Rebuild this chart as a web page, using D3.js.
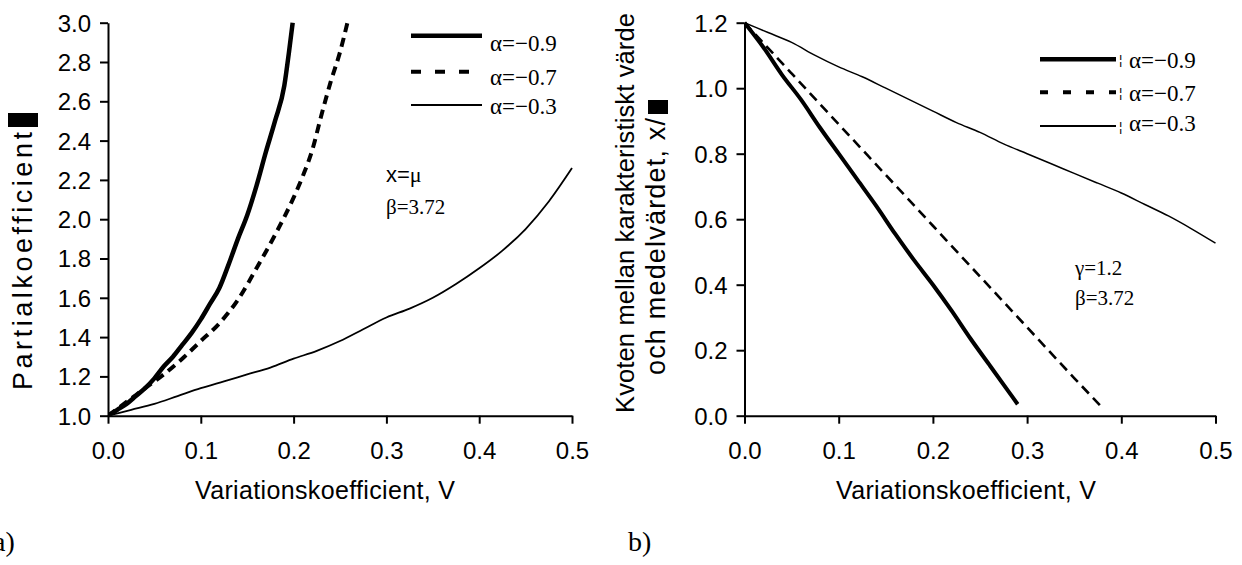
<!DOCTYPE html>
<html>
<head>
<meta charset="utf-8">
<script src="https://cdn.jsdelivr.net/npm/d3@7"></script>
<style>
  html, body { margin: 0; padding: 0; background: #fff; }
  svg { display: block; }
  .tick text { font-family: "Liberation Sans", Arial, sans-serif; font-size: 24px; fill: #000; }
  .axis path, .axis line { stroke: #000; stroke-width: 2; }
  .sans { font-family: "Liberation Sans", Arial, sans-serif; fill: #000; }
  .serif { font-family: "Liberation Serif", "Times New Roman", serif; fill: #000; }
</style>
</head>
<body>
<svg id="chart" width="1242" height="565"></svg>
<script>
// ---------- data ----------
// Panel a) Partialkoefficient vs Variationskoefficient V
const aThickV = [0, 0.01, 0.02, 0.03, 0.04, 0.05, 0.06, 0.07, 0.08, 0.09, 0.10, 0.11, 0.12, 0.13, 0.14, 0.15, 0.16, 0.17, 0.18, 0.19, 0.195, 0.199];
const aThickY = [1.0, 1.03, 1.06, 1.10, 1.14, 1.19, 1.25, 1.30, 1.36, 1.42, 1.49, 1.57, 1.65, 1.77, 1.90, 2.02, 2.17, 2.34, 2.50, 2.68, 2.85, 3.0];
const aDashV = [0, 0.02, 0.04, 0.06, 0.08, 0.10, 0.12, 0.14, 0.16, 0.18, 0.20, 0.21, 0.22, 0.23, 0.24, 0.25, 0.258];
const aDashY = [1.0, 1.07, 1.14, 1.21, 1.29, 1.38, 1.47, 1.59, 1.75, 1.92, 2.11, 2.22, 2.35, 2.53, 2.70, 2.85, 3.0];
const aThinV = [0, 0.025, 0.05, 0.075, 0.10, 0.125, 0.15, 0.175, 0.20, 0.225, 0.25, 0.275, 0.30, 0.325, 0.35, 0.375, 0.40, 0.425, 0.45, 0.475, 0.50];
const aThinY = [1.0, 1.03, 1.06, 1.10, 1.14, 1.175, 1.21, 1.245, 1.29, 1.33, 1.38, 1.44, 1.50, 1.545, 1.60, 1.67, 1.75, 1.84, 1.95, 2.09, 2.26];

// Panel b) Kvoten x_k / medelvärdet vs V
const bThickV = [0, 0.02, 0.04, 0.06, 0.08, 0.10, 0.12, 0.14, 0.16, 0.18, 0.20, 0.22, 0.24, 0.26, 0.28, 0.29];
const bThickY = [1.2, 1.125, 1.04, 0.965, 0.88, 0.80, 0.72, 0.64, 0.555, 0.475, 0.40, 0.32, 0.235, 0.155, 0.075, 0.035];
const bDashV = [0, 0.05, 0.10, 0.15, 0.20, 0.25, 0.30, 0.35, 0.378];
const bDashY = [1.2, 1.045, 0.89, 0.735, 0.58, 0.425, 0.27, 0.115, 0.03];
const bThinV = [0, 0.025, 0.05, 0.075, 0.10, 0.125, 0.15, 0.175, 0.20, 0.225, 0.25, 0.275, 0.30, 0.325, 0.35, 0.375, 0.40, 0.425, 0.45, 0.475, 0.50];
const bThinY = [1.2, 1.17, 1.14, 1.10, 1.065, 1.035, 1.00, 0.965, 0.93, 0.895, 0.865, 0.83, 0.80, 0.77, 0.74, 0.71, 0.68, 0.645, 0.61, 0.57, 0.527];

const xTicks = [0, 0.1, 0.2, 0.3, 0.4, 0.5];
const aYTicks = [1.0, 1.2, 1.4, 1.6, 1.8, 2.0, 2.2, 2.4, 2.6, 2.8, 3.0];
const bYTicks = [0.0, 0.2, 0.4, 0.6, 0.8, 1.0, 1.2];
const legendLabels = ["α=−0.9", "α=−0.7", "α=−0.3"];
const xTitle = "Variationskoefficient, V";
const aYTitle = "Partialkoefficient";
const bYTitle1 = "Kvoten mellan karakteristiskt värde";
const bYTitle2 = "och medelvärdet, x/";

// ---------- drawing ----------
const svg = d3.select("#chart");
const fmt = d3.format(".1f");
const zip = (xs, ys) => xs.map((v, i) => [v, ys[i]]);

function panel(opt) {
  const g = svg.append("g");
  const x = d3.scaleLinear().domain([0, 0.5]).range(opt.xr);
  const y = d3.scaleLinear().domain(opt.yd).range([415.7, 22.7]);

  const clipId = "clip" + opt.id;
  svg.append("clipPath").attr("id", clipId).append("rect")
    .attr("x", opt.xr[0]).attr("y", 22.7 - 3)
    .attr("width", opt.xr[1] - opt.xr[0] + 5).attr("height", 415.7 - 22.7 + 3);

  const line = d3.line().x(d => x(d[0])).y(d => y(d[1])).curve(d3.curveMonotoneX);
  opt.series.forEach(s => {
    g.append("path").attr("d", line(zip(s.v, s.y)))
      .attr("clip-path", `url(#${clipId})`)
      .attr("fill", "none").attr("stroke", "#000")
      .attr("stroke-width", s.w).attr("stroke-dasharray", s.dash || null)
      .attr("stroke-linejoin", "round");
  });

  g.append("g").attr("class", "axis").attr("transform", `translate(0,${y(opt.yd[0])})`)
    .call(d3.axisBottom(x).tickValues(xTicks).tickFormat(fmt).tickSize(8).tickSizeOuter(0).tickPadding(18));
  g.append("g").attr("class", "axis").attr("transform", `translate(${opt.xr[0]},0)`)
    .call(d3.axisLeft(y).tickValues(opt.yticks).tickFormat(fmt).tickSize(8).tickSizeOuter(0).tickPadding(9))
    .selectAll(".tick text").attr("dy", "0.35em");

  // x title
  g.append("text").attr("class", "sans").attr("font-size", 25)
    .attr("x", opt.xtitleX).attr("y", 499).attr("text-anchor", "middle")
    .attr("textLength", 260).attr("lengthAdjust", "spacing").text(xTitle);

  // legend
  const L = opt.legend;
  opt.series.forEach((s, i) => {
    g.append("line").attr("x1", L.x1).attr("x2", L.x2).attr("y1", L.ys[i]).attr("y2", L.ys[i])
      .attr("stroke", "#000").attr("stroke-width", L.w[i]).attr("stroke-dasharray", L.dash[i] || null);
    if (L.bar) {
      g.append("text").attr("class", "sans").attr("font-size", 13)
        .attr("x", L.x2 + 3).attr("y", L.ys[i] + 5).text("¦");
    }
    g.append("text").attr("class", "serif").attr("font-size", 23)
      .attr("x", L.tx).attr("y", L.ty[i]).text(legendLabels[i]);
  });
  return { g, x, y };
}

panel({
  id: "a", xr: [108, 572], yd: [1, 3], yticks: aYTicks, xtitleX: 325,
  series: [
    { v: aThickV, y: aThickY, w: 4.5 },
    { v: aDashV, y: aDashY, w: 4, dash: "9,6" },
    { v: aThinV, y: aThinY, w: 1.8 }
  ],
  legend: { x1: 411, x2: 482, ys: [35.7, 71.7, 105], w: [4.5, 4, 2], dash: [null, "10,14", null], tx: 490, ty: [51, 85, 114], bar: false }
});

panel({
  id: "b", xr: [744.5, 1215.5], yd: [0, 1.2], yticks: bYTicks, xtitleX: 966,
  series: [
    { v: bThickV, y: bThickY, w: 4 },
    { v: bDashV, y: bDashY, w: 2.6, dash: "10,6" },
    { v: bThinV, y: bThinY, w: 1.5 }
  ],
  legend: { x1: 1040, x2: 1116, ys: [59.3, 92.3, 126], w: [4.5, 4, 2], dash: [null, "8,15", null], tx: 1129, ty: [68, 101, 131], bar: true }
});

// y titles
svg.append("text").attr("class", "sans").attr("font-size", 27)
  .attr("transform", "translate(32,390) rotate(-90)").attr("text-anchor", "start")
  .attr("textLength", 258).attr("lengthAdjust", "spacing").text(aYTitle);
svg.append("rect").attr("x", 8).attr("y", 113).attr("width", 30).attr("height", 14).attr("fill", "#000");

svg.append("text").attr("class", "sans").attr("font-size", 25.5)
  .attr("transform", "translate(634,413) rotate(-90)").attr("text-anchor", "start")
  .attr("textLength", 400).attr("lengthAdjust", "spacing").text(bYTitle1);
svg.append("text").attr("class", "sans").attr("font-size", 27)
  .attr("transform", "translate(665,375) rotate(-90)").attr("text-anchor", "start")
  .attr("textLength", 257).attr("lengthAdjust", "spacing").text(bYTitle2);
svg.append("rect").attr("x", 648).attr("y", 100).attr("width", 20).attr("height", 14).attr("fill", "#000");

// annotations
const ann1 = svg.append("text").attr("x", 386).attr("y", 182);
ann1.append("tspan").attr("class", "sans").attr("font-size", 22).text("x=");
ann1.append("tspan").attr("class", "serif").attr("font-size", 22).text("μ");
svg.append("text").attr("class", "serif").attr("font-size", 21).attr("x", 386).attr("y", 214).text("β=3.72");
svg.append("text").attr("class", "serif").attr("font-size", 21).attr("x", 1075).attr("y", 275).text("γ=1.2");
svg.append("text").attr("class", "serif").attr("font-size", 21).attr("x", 1075).attr("y", 305).text("β=3.72");

// panel labels
svg.append("text").attr("class", "serif").attr("font-size", 28).attr("x", -7).attr("y", 551).text("a)");
svg.append("text").attr("class", "serif").attr("font-size", 28).attr("x", 628).attr("y", 551).text("b)");
</script>
</body>
</html>
